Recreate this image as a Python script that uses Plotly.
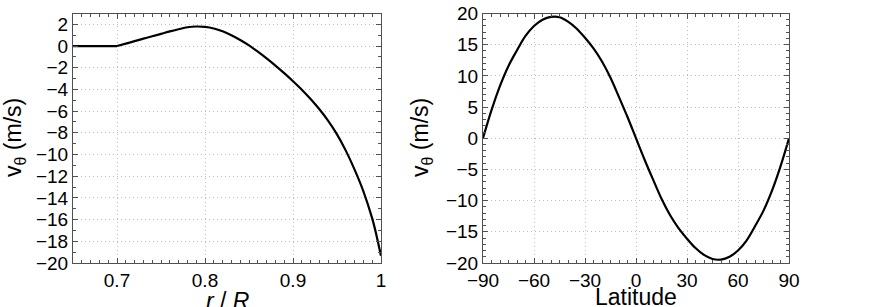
import plotly.graph_objects as go

# Left panel: v_theta vs r/R
r_vals = [0.65, 0.70, 0.71, 0.72, 0.73, 0.74, 0.75, 0.76, 0.77, 0.78, 0.79,
          0.80, 0.81, 0.82, 0.83, 0.84, 0.85, 0.86, 0.87, 0.88, 0.89, 0.90, 0.91,
          0.92, 0.93, 0.94, 0.95, 0.96, 0.97, 0.98, 0.99, 0.995, 1.00]
v_r = [0.0, 0.0, 0.22, 0.45, 0.68, 0.90, 1.12, 1.35, 1.55, 1.73, 1.80,
       1.76, 1.62, 1.36, 1.00, 0.56, 0.06, -0.52, -1.14, -1.80, -2.50, -3.24, -4.02,
       -4.88, -5.83, -6.90, -8.14, -9.64, -11.39, -13.39, -15.89, -17.5, -19.34]

# Right panel: v_theta vs latitude
lat = [-90, -85, -80, -75, -70, -65, -60, -55, -50, -45, -40, -35, -30, -25, -20, -15, -10, -5,
       0, 5, 10, 15, 20, 25, 30, 35, 40, 45, 50, 55, 60, 65, 70, 75, 80, 85, 90]
v_lat = [0.0, 4.5, 8.4, 11.6, 14.1, 16.4, 18.0, 19.0, 19.45, 19.4, 18.7, 17.6, 16.1, 14.4, 12.3, 9.7, 6.6, 3.4,
         0.0, -3.4, -6.6, -9.7, -12.3, -14.4, -16.1, -17.6, -18.7, -19.35, -19.45, -19.0, -18.0, -16.4, -14.1, -11.6, -8.4, -4.5, 0.0]

left_xticks = [0.7, 0.8, 0.9, 1.0]
left_xticklabels = ["0.7", "0.8", "0.9", "1"]
left_yticks = list(range(-20, 3, 2))
right_xticks = [-90, -60, -30, 0, 30, 60, 90]
right_yticks = [-20, -15, -10, -5, 0, 5, 10, 15, 20]

FONT = "Liberation Sans, Arial, sans-serif"
AX = "#505050"
GRID = "#bdbdbd"

fig = go.Figure()
# flat part and curved part of the left profile (split at the kink r = 0.7)
k = r_vals.index(0.70)
fig.add_trace(go.Scatter(x=r_vals[:k + 1], y=v_r[:k + 1], mode="lines", line=dict(color="black", width=2.2),
                         xaxis="x", yaxis="y", showlegend=False))
fig.add_trace(go.Scatter(x=r_vals[k:], y=v_r[k:], mode="lines",
                         line=dict(color="black", width=2.2, shape="spline", smoothing=1.0),
                         xaxis="x", yaxis="y", showlegend=False))
fig.add_trace(go.Scatter(x=lat, y=v_lat, mode="lines", line=dict(color="black", width=2.2, shape="spline", smoothing=1.0),
                         xaxis="x2", yaxis="y2", showlegend=False))

common = dict(showline=True, linecolor=AX, linewidth=1, mirror="ticks", ticks="inside",
              ticklen=5, tickcolor=AX, showgrid=True, gridcolor=GRID, griddash="1px,3px",
              gridwidth=1, zeroline=False, tickfont=dict(family=FONT, size=19, color="black"),
              automargin=False)

x0l, x1l = 73 / 872, 381 / 872
x0r, x1r = 483 / 872, 789 / 872
y0, y1 = 1 - 263 / 307, 1 - 13.5 / 307

fig.update_layout(
    width=872, height=307, margin=dict(l=0, r=0, t=0, b=0),
    paper_bgcolor="white", plot_bgcolor="white",
    xaxis=dict(domain=[x0l, x1l], range=[0.65, 1.0], tickvals=left_xticks, ticktext=left_xticklabels,
               minor=dict(ticks="inside", ticklen=3, dtick=0.01, tick0=0.65, tickcolor=AX, showgrid=False),
               anchor="y", **common),
    yaxis=dict(domain=[y0, y1], range=[-20, 3], tickvals=left_yticks,
               minor=dict(ticks="inside", ticklen=3, dtick=1, tickcolor=AX, showgrid=False),
               anchor="x", **common),
    xaxis2=dict(domain=[x0r, x1r], range=[-90, 90], tickvals=right_xticks,
                minor=dict(ticks="inside", ticklen=3, dtick=5, tickcolor=AX, showgrid=False),
                anchor="y2", **common),
    yaxis2=dict(domain=[y0, y1], range=[-20, 20], tickvals=right_yticks,
                minor=dict(ticks="inside", ticklen=3, dtick=1, tickcolor=AX, showgrid=False),
                anchor="x2", **common),
)

ann_font = dict(family=FONT, size=23, color="black")
fig.add_annotation(text="<i>r</i> / <i>R</i>", x=(x0l + x1l) / 2, y=1 - 301 / 307, xref="paper", yref="paper",
                   xanchor="center", yanchor="middle", showarrow=False, font=ann_font)
fig.add_annotation(text="Latitude", x=(x0r + x1r) / 2, y=1 - 297 / 307, xref="paper", yref="paper",
                   xanchor="center", yanchor="middle", showarrow=False, font=ann_font)
fig.add_annotation(text="v<sub>θ</sub> (m/s)", x=14 / 872, y=1 - 138 / 307, xref="paper", yref="paper",
                   xanchor="center", yanchor="middle", textangle=-90, showarrow=False, font=ann_font)
fig.add_annotation(text="v<sub>θ</sub> (m/s)", x=421 / 872, y=1 - 138 / 307, xref="paper", yref="paper",
                   xanchor="center", yanchor="middle", textangle=-90, showarrow=False, font=ann_font)

fig.write_html("out.html", config={"displayModeBar": False},
               post_script="document.body.style.margin='0';document.body.style.overflow='hidden';")
